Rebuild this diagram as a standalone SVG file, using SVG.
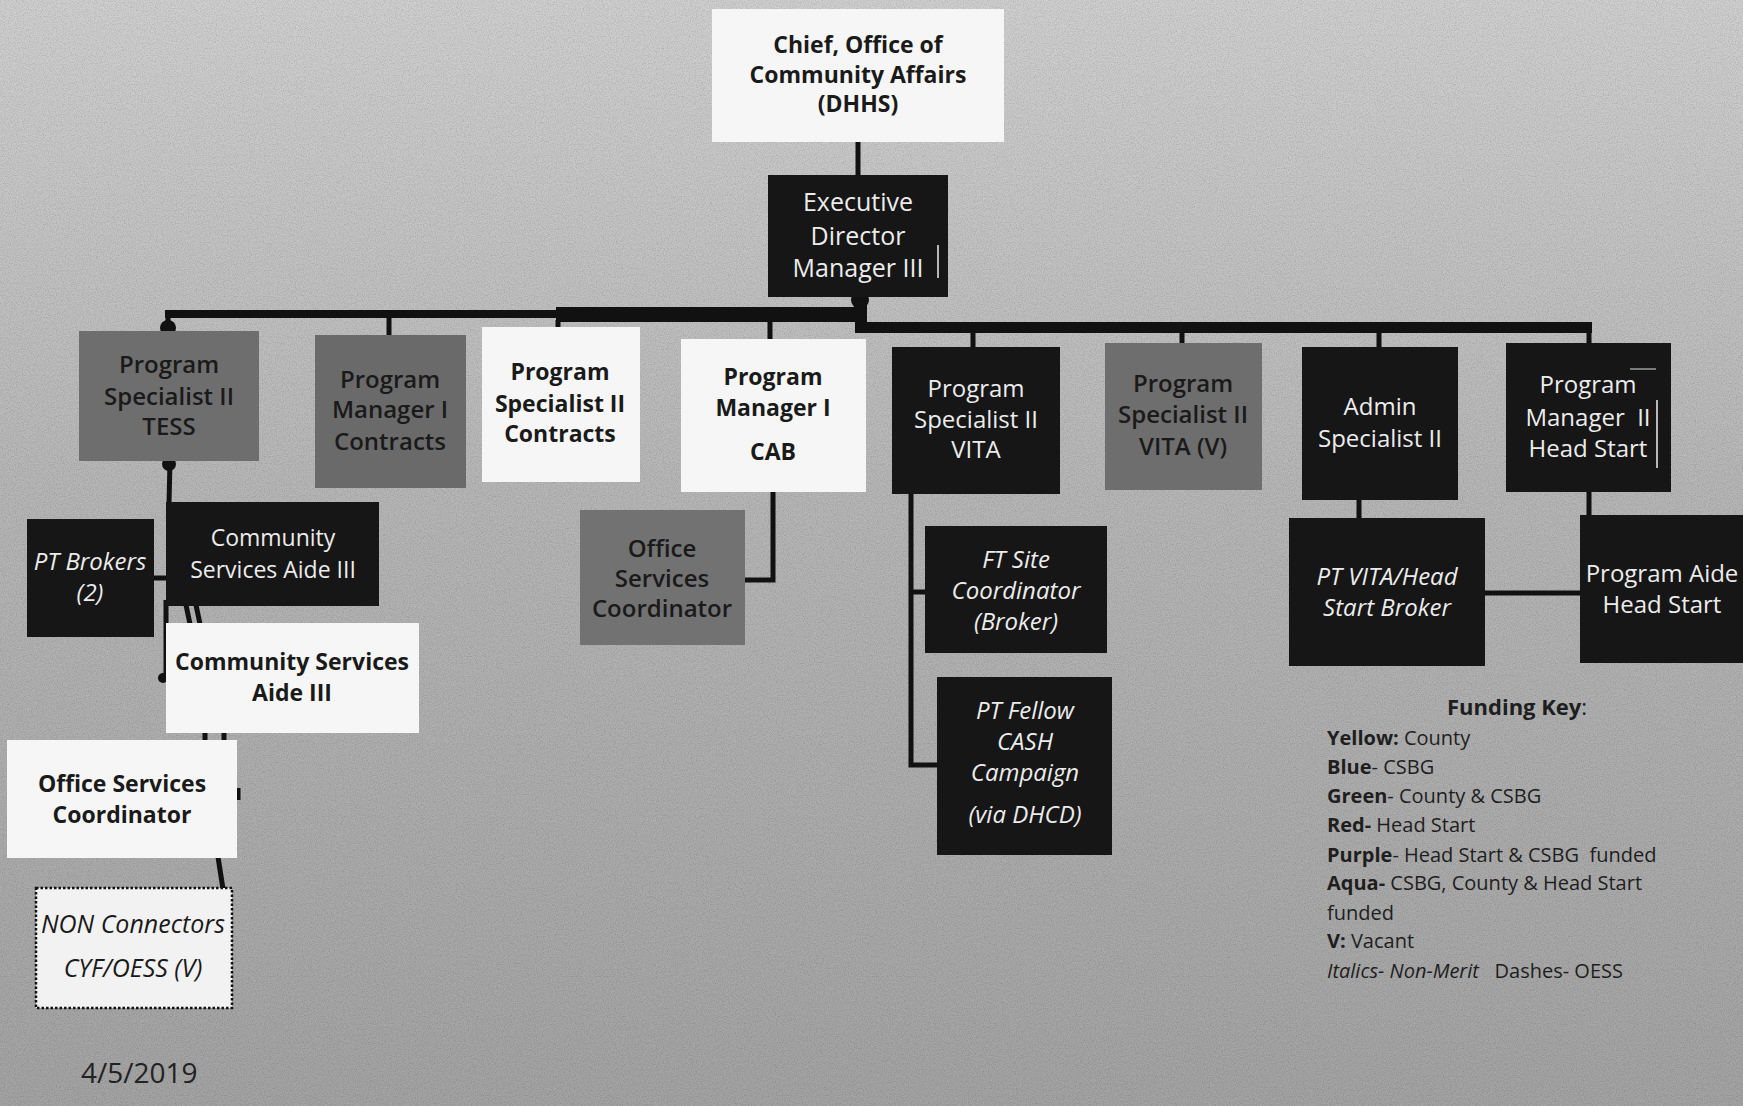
<svg xmlns="http://www.w3.org/2000/svg" width="1743" height="1106" viewBox="0 0 1743 1106">
<defs>
<linearGradient id="bg" x1="0" y1="0" x2="0" y2="1">
<stop offset="0" stop-color="#cfcfcf"/>
<stop offset="0.45" stop-color="#b6b6b6"/>
<stop offset="1" stop-color="#a3a3a3"/>
</linearGradient>
<filter id="noise" x="0" y="0" width="100%" height="100%">
<feTurbulence type="fractalNoise" baseFrequency="0.85" numOctaves="2" seed="3"/>
<feColorMatrix type="matrix" values="0 0 0 0 0  0 0 0 0 0  0 0 0 0 0  0 0 0 0.9 -0.35"/>
</filter>
<style>
.wb{fill:#f6f6f6}
.bk{fill:#161616}
.gy{fill:#6e6e6e}
.t{font-family:"Open Sans","Noto Sans",sans-serif;font-size:24px;text-anchor:middle}
.lt{fill:#ececec}
.dk{fill:#1a1a1a}
.b{font-weight:700;font-size:23px}
.sb{font-weight:600}
.i{font-style:italic}
.ln{stroke:#111;fill:none;stroke-width:5}
.key{font-family:"Open Sans","Noto Sans",sans-serif;font-size:20px;fill:#1e1e1e}
.kb{font-weight:700}
</style>
</defs>
<rect width="1743" height="1106" fill="url(#bg)"/>
<rect width="1743" height="1106" filter="url(#noise)" opacity="0.3"/>

<g id="connectors">
<line class="ln" x1="858" y1="142" x2="858" y2="176"/>
<circle cx="860" cy="300" r="9" fill="#111"/>
<rect x="165" y="310" width="696" height="8" fill="#111"/>
<rect x="556" y="307" width="306" height="15" fill="#111"/>
<rect x="855" y="300" width="12" height="33" fill="#111"/>
<rect x="855" y="322" width="737" height="11" fill="#111"/>
<line class="ln" x1="1589" y1="322" x2="1589" y2="344"/>
<line class="ln" x1="168" y1="314" x2="168" y2="332"/>
<circle cx="168" cy="328" r="8" fill="#111"/>
<line class="ln" x1="389" y1="316" x2="389" y2="336"/>
<line class="ln" x1="558" y1="320" x2="558" y2="328"/>
<line class="ln" x1="770" y1="320" x2="770" y2="340"/>
<line class="ln" x1="973" y1="330" x2="973" y2="348"/>
<line class="ln" x1="1182" y1="330" x2="1182" y2="344"/>
<line class="ln" x1="1379" y1="330" x2="1379" y2="348"/>
<polyline class="ln" points="773,491 773,580 744,580"/>
<polyline class="ln" points="911,493 911,765 939,765"/>
<line class="ln" x1="911" y1="592" x2="926" y2="592"/>
<line class="ln" x1="1359" y1="499" x2="1359" y2="519"/>
<line class="ln" x1="1589" y1="490" x2="1589" y2="516"/>
<line class="ln" x1="1485" y1="593" x2="1581" y2="593" stroke-width="4"/>
<circle cx="169" cy="464" r="7" fill="#111"/>
<line class="ln" x1="170" y1="461" x2="169" y2="503" stroke-width="9"/>
<line class="ln" x1="166" y1="600" x2="166" y2="680"/>
<circle cx="163" cy="678" r="5" fill="#111"/>
<line class="ln" x1="153" y1="578" x2="167" y2="578" stroke-width="4"/>
<line class="ln" x1="186" y1="605" x2="190" y2="624" stroke-width="4"/>
<line class="ln" x1="196" y1="605" x2="200" y2="624" stroke-width="4"/>
<line class="ln" x1="205" y1="732" x2="205" y2="741" stroke-width="4"/>
<line class="ln" x1="224" y1="732" x2="224" y2="741" stroke-width="4"/>
<line class="ln" x1="218" y1="857" x2="223" y2="889" stroke-width="4"/>
<line class="ln" x1="238" y1="788" x2="238" y2="800" stroke-width="2"/>
</g>

<g id="chief">
<rect class="wb" x="712" y="9" width="292" height="133"/>
<text class="t b dk" x="858" y="53">Chief, Office of</text>
<text class="t b dk" x="858" y="83">Community Affairs</text>
<text class="t b dk" x="858" y="112">(DHHS)</text>
</g>

<g id="exec">
<rect class="bk" x="768" y="175" width="180" height="122"/>
<text class="t lt" x="858" y="211" style="font-size:25px">Executive</text>
<text class="t lt" x="858" y="245" style="font-size:25px">Director</text>
<text class="t lt" x="858" y="277" style="font-size:25px">Manager III</text>
<line x1="938" y1="245" x2="938" y2="278" stroke="#eee" stroke-width="1.5"/>
</g>

<g id="ps2-tess">
<rect class="gy" x="79" y="331" width="180" height="130"/>
<text class="t sb dk" x="169" y="373">Program</text>
<text class="t sb dk" x="169" y="405">Specialist II</text>
<text class="t sb dk" x="169" y="435">TESS</text>
</g>

<g id="pm1-contracts">
<rect class="gy" x="315" y="335" width="151" height="153" style="fill:#6a6a6a"/>
<text class="t sb dk" x="390" y="388">Program</text>
<text class="t sb dk" x="390" y="418">Manager I</text>
<text class="t sb dk" x="390" y="450">Contracts</text>
</g>

<g id="ps2-contracts">
<rect class="wb" x="482" y="327" width="158" height="155"/>
<text class="t b dk" x="560" y="380">Program</text>
<text class="t b dk" x="560" y="412">Specialist II</text>
<text class="t b dk" x="560" y="442">Contracts</text>
</g>

<g id="pm1-cab">
<rect class="wb" x="681" y="339" width="185" height="153"/>
<text class="t b dk" x="773" y="385">Program</text>
<text class="t b dk" x="773" y="416">Manager I</text>
<text class="t b dk" x="773" y="460">CAB</text>
</g>

<g id="osc-cab">
<rect class="gy" x="580" y="510" width="165" height="135" style="fill:#727272"/>
<text class="t sb dk" x="662" y="557">Office</text>
<text class="t sb dk" x="662" y="587">Services</text>
<text class="t sb dk" x="662" y="617">Coordinator</text>
</g>

<g id="ps2-vita">
<rect class="bk" x="892" y="347" width="168" height="147"/>
<text class="t lt" x="976" y="397">Program</text>
<text class="t lt" x="976" y="428">Specialist II</text>
<text class="t lt" x="976" y="458">VITA</text>
</g>

<g id="ps2-vita-v">
<rect class="gy" x="1105" y="343" width="157" height="147"/>
<text class="t sb dk" x="1183" y="392">Program</text>
<text class="t sb dk" x="1183" y="423">Specialist II</text>
<text class="t sb dk" x="1183" y="455">VITA (V)</text>
</g>

<g id="admin-specialist">
<rect class="bk" x="1302" y="347" width="156" height="153"/>
<text class="t lt" x="1380" y="415">Admin</text>
<text class="t lt" x="1380" y="447">Specialist II</text>
</g>

<g id="pm2-headstart">
<rect class="bk" x="1506" y="343" width="165" height="149"/>
<text class="t lt" x="1588" y="393">Program</text>
<text class="t lt" x="1588" y="426" xml:space="preserve">Manager  II</text>
<text class="t lt" x="1588" y="457">Head Start</text>
<line x1="1630" y1="369" x2="1656" y2="369" stroke="#ddd" stroke-width="1"/>
<line x1="1657" y1="400" x2="1657" y2="468" stroke="#eee" stroke-width="1.5"/>
</g>

<g id="pt-brokers">
<rect class="bk" x="27" y="519" width="127" height="118"/>
<text class="t i lt" x="90" y="570">PT Brokers</text>
<text class="t i lt" x="90" y="601">(2)</text>
</g>

<g id="csa3-black">
<rect class="bk" x="166" y="502" width="213" height="104"/>
<text class="t lt" x="273" y="546" style="font-size:23px">Community</text>
<text class="t lt" x="273" y="578" style="font-size:23px">Services Aide III</text>
</g>

<g id="csa3-white">
<rect class="wb" x="166" y="623" width="253" height="110"/>
<text class="t b dk" x="292" y="670">Community Services</text>
<text class="t b dk" x="292" y="701">Aide III</text>
</g>

<g id="osc-tess">
<rect class="wb" x="7" y="740" width="230" height="118"/>
<text class="t b dk" x="122" y="792">Office Services</text>
<text class="t b dk" x="122" y="823">Coordinator</text>
</g>

<g id="non-connectors">
<rect x="36" y="888" width="196" height="120" fill="#f2f2f2" stroke="#111" stroke-width="2.5" stroke-dasharray="2.5 2"/>
<text class="t i dk" x="133" y="933" style="font-size:25px">NON Connectors</text>
<text class="t i dk" x="133" y="977" style="font-size:25px">CYF/OESS (V)</text>
</g>

<g id="ft-site">
<rect class="bk" x="925" y="526" width="182" height="127"/>
<text class="t i lt" x="1016" y="568">FT Site</text>
<text class="t i lt" x="1016" y="599">Coordinator</text>
<text class="t i lt" x="1016" y="630">(Broker)</text>
</g>

<g id="pt-fellow">
<rect class="bk" x="937" y="677" width="175" height="178"/>
<text class="t i lt" x="1025" y="719">PT Fellow</text>
<text class="t i lt" x="1025" y="750">CASH</text>
<text class="t i lt" x="1025" y="781">Campaign</text>
<text class="t i lt" x="1025" y="823">(via DHCD)</text>
</g>

<g id="pt-vita-hs-broker">
<rect class="bk" x="1289" y="518" width="196" height="148"/>
<text class="t i lt" x="1387" y="585">PT VITA/Head</text>
<text class="t i lt" x="1387" y="616">Start Broker</text>
</g>

<g id="program-aide-hs">
<rect class="bk" x="1580" y="515" width="170" height="148"/>
<text class="t lt" x="1662" y="582">Program Aide</text>
<text class="t lt" x="1662" y="613">Head Start</text>
</g>

<g id="funding-key">
<text class="key" x="1447" y="715" style="font-size:22px"><tspan class="kb">Funding Key</tspan>:</text>
<text class="key" x="1327" y="745"><tspan class="kb">Yellow:</tspan> County</text>
<text class="key" x="1327" y="774"><tspan class="kb">Blue</tspan>- CSBG</text>
<text class="key" x="1327" y="803"><tspan class="kb">Green</tspan>- County &amp; CSBG</text>
<text class="key" x="1327" y="832"><tspan class="kb">Red-</tspan> Head Start</text>
<text class="key" x="1327" y="862" xml:space="preserve"><tspan class="kb">Purple</tspan>- Head Start &amp; CSBG  funded</text>
<text class="key" x="1327" y="890"><tspan class="kb">Aqua-</tspan> CSBG, County &amp; Head Start</text>
<text class="key" x="1327" y="920">funded</text>
<text class="key" x="1327" y="948"><tspan class="kb">V:</tspan> Vacant</text>
<text class="key" x="1327" y="978" xml:space="preserve"><tspan font-style="italic">Italics- Non-Merit</tspan>   Dashes- OESS</text>
</g>

<text id="date" x="81" y="1083" style="font-family:'Open Sans','Noto Sans',sans-serif;font-size:28px;fill:#222">4/5/2019</text>
</svg>
